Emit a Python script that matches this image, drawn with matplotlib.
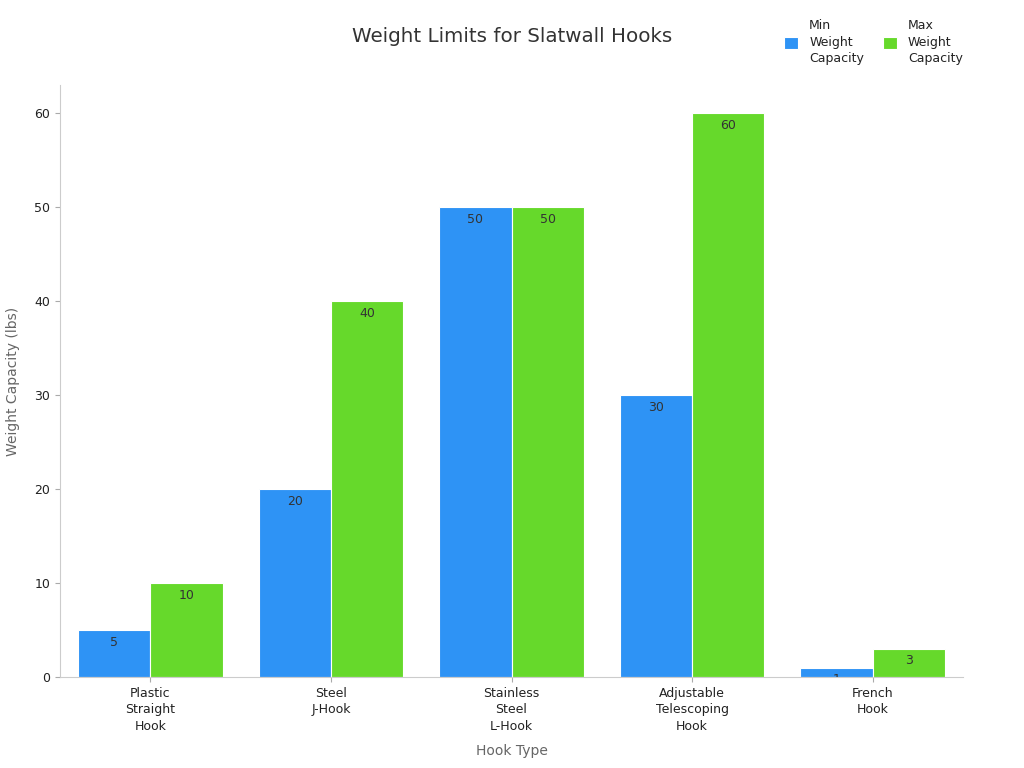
import numpy as np
import matplotlib.pyplot as plt

categories = ['Plastic\nStraight\nHook', 'Steel\nJ-Hook', 'Stainless\nSteel\nL-Hook',
              'Adjustable\nTelescoping\nHook', 'French\nHook']
min_capacity = [5, 20, 50, 30, 1]
max_capacity = [10, 40, 50, 60, 3]

blue = '#2E93F5'
green = '#66D92B'

fig = plt.figure(figsize=(10.24, 7.68), dpi=100)
ax = fig.add_axes([60 / 1024, 91 / 768, 903 / 1024, 592 / 768])

x = np.arange(len(categories))
w = 0.4
bars_min = ax.bar(x - w / 2, min_capacity, w, color=blue, edgecolor='white', linewidth=0.8,
                  label='Min\nWeight\nCapacity')
bars_max = ax.bar(x + w / 2, max_capacity, w, color=green, edgecolor='white', linewidth=0.8,
                  label='Max\nWeight\nCapacity')

# value labels just inside the top of each bar, clipped to the bar
for bars in (bars_min, bars_max):
    for b in bars:
        h = b.get_height()
        t = ax.annotate(f'{h:g}', (b.get_x() + b.get_width() / 2, h), xytext=(0, -4),
                        textcoords='offset points', ha='center', va='top',
                        fontsize=9, color='#333333')
        t.set_clip_path(b)

ax.set_xlim(-0.5, len(categories) - 0.5)
ax.set_ylim(0, 63)
ax.set_yticks(range(0, 61, 10))
ax.set_xticks(x)
ax.set_xticklabels(categories, fontsize=9, color='#222222', linespacing=1.35)
ax.tick_params(axis='y', labelsize=9, labelcolor='#222222', color='#aaaaaa')
ax.tick_params(axis='x', color='#aaaaaa')

for s in ('top', 'right'):
    ax.spines[s].set_visible(False)
for s in ('left', 'bottom'):
    ax.spines[s].set_color('#cccccc')

ax.set_xlabel('Hook Type', fontsize=10, color='#666666', labelpad=8)
ax.set_ylabel('Weight Capacity (lbs)', fontsize=10, color='#666666', labelpad=10)

fig.text(0.5, 0.953, 'Weight Limits for Slatwall Hooks', ha='center', va='center',
         fontsize=14.3, color='#333333')

leg = ax.legend(loc='upper right', bbox_to_anchor=(974 / 1024, 1 - 8 / 768),
                bbox_transform=fig.transFigure,
                ncol=2, frameon=False, fontsize=9, handlelength=1.1, handleheight=1.1,
                columnspacing=1.5, handletextpad=0.9)
for t in leg.get_texts():
    t.set_color('#222222')
    t.set_linespacing(1.35)

fig.savefig('out.png', dpi=100)
